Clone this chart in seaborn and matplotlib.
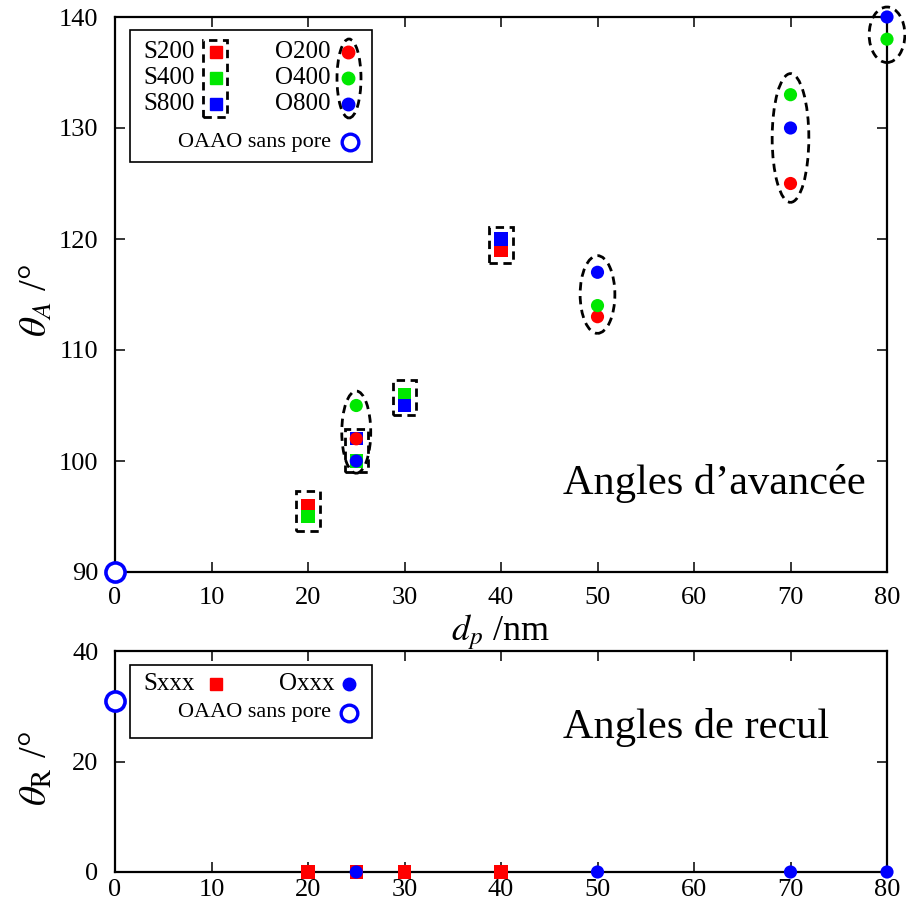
import matplotlib
matplotlib.use("Agg")
import matplotlib.pyplot as plt
import seaborn as sns
import pandas as pd
from matplotlib.patches import Rectangle, Ellipse

# ---------------- data ----------------
s200_x = [20, 25, 30, 40]
s200_y = [96, 102, 105, 119]
s400_x = [20, 25, 30, 40]
s400_y = [95, 100, 106, 120]
s800_x = [25, 30, 40]
s800_y = [102, 105, 120]

o200_x = [25, 50, 70]
o200_y = [102, 113, 125]
o400_x = [25, 50, 70, 80]
o400_y = [105, 114, 133, 138]
o800_x = [25, 50, 70, 80]
o800_y = [100, 117, 130, 140]

oaao_x = [0]
oaao_adv = [90]
oaao_rec = [31]

sxxx_x = [20, 25, 30, 40]
sxxx_rec = [0, 0, 0, 0]
oxxx_x = [25, 50, 70, 80]
oxxx_rec = [0, 0, 0, 0]

x_ticks = [0, 10, 20, 30, 40, 50, 60, 70, 80]
ya_ticks = [90, 100, 110, 120, 130, 140]
yr_ticks = [0, 20, 40]

RED, GREEN, BLUE = "#ff0000", "#00e800", "#0000ff"

sns.set_theme(style="white")
plt.rcParams["font.family"] = ["Liberation Serif", "DejaVu Serif"]
plt.rcParams["mathtext.fontset"] = "stix"
for k in ["text.color", "axes.labelcolor", "xtick.color", "ytick.color"]:
    plt.rcParams[k] = "black"

fig = plt.figure(figsize=(9.06, 9.11), dpi=100)
W, H = 906, 911
L, R = 115, 887
ax1 = fig.add_axes([L / W, 1 - 572 / H, (R - L) / W, (572 - 17) / H])
ax2 = fig.add_axes([L / W, 1 - 872 / H, (R - L) / W, (872 - 651) / H])

SQ = 90

def scat(ax, x, y, color, marker, s=SQ, z=3):
    df = pd.DataFrame({"x": x, "y": y})
    sns.scatterplot(data=df, x="x", y="y", ax=ax, color=color, marker=marker,
                    s=s, edgecolor="none", linewidth=0, clip_on=False, zorder=z,
                    legend=False)

def hollow(ax, x, y):
    df = pd.DataFrame({"x": x, "y": y})
    sns.scatterplot(data=df, x="x", y="y", ax=ax, marker="o", s=190,
                    facecolor="white", edgecolor=BLUE, linewidth=2.6,
                    clip_on=False, zorder=6, legend=False)

# ---- top panel ----
scat(ax1, s200_x, s200_y, RED, "s")
scat(ax1, s400_x, s400_y, GREEN, "s")
scat(ax1, s800_x, s800_y, BLUE, "s")
scat(ax1, o200_x, o200_y, RED, "o", z=4)
scat(ax1, o400_x, o400_y, GREEN, "o", z=4)
scat(ax1, o800_x, o800_y, BLUE, "o", z=4)
hollow(ax1, oaao_x, oaao_adv)

dash = dict(fill=False, edgecolor="black", linewidth=2.0, linestyle=(0, (3, 2)),
            clip_on=False, zorder=5)
# dashed groupings (squares)
for xc, ylo, yhi in [(20, 93.7, 97.3), (25, 99.0, 102.9), (30, 104.1, 107.3), (40, 117.8, 121.1)]:
    ax1.add_patch(Rectangle((xc - 1.2, ylo), 2.4, yhi - ylo, **dash))
# dashed groupings (circles)
for xc, yc, w, h in [(25, 102.6, 3.0, 7.4), (50, 115.0, 3.6, 7.0), (70, 129.1, 3.8, 11.6), (80, 138.4, 3.7, 5.0)]:
    ax1.add_patch(Ellipse((xc, yc), w, h, **dash))

ax1.set_xlim(0, 80)
ax1.set_ylim(90, 140)
ax1.set_xticks(x_ticks)
ax1.set_yticks(ya_ticks)
ax1.set_xlabel(r"$d_p$ /nm", fontsize=26, labelpad=2)
ax1.set_ylabel(r"$\theta_A$ /°", fontsize=28)
ax1.yaxis.set_label_coords((56 - L) / (R - L), 0.49)
ax1.text(0.58, 0.16, "Angles d’avancée", transform=ax1.transAxes, fontsize=30.5,
         va="center", ha="left")

# ---- bottom panel ----
scat(ax2, sxxx_x, sxxx_rec, RED, "s")
scat(ax2, oxxx_x, oxxx_rec, BLUE, "o", z=4)
hollow(ax2, oaao_x, oaao_rec)
ax2.set_xlim(0, 80)
ax2.set_ylim(0, 40)
ax2.set_xticks(x_ticks)
ax2.set_yticks(yr_ticks)
ax2.set_xlabel("")
ax2.set_ylabel(r"$\theta_\mathrm{R}$ /°", fontsize=28)
ax2.yaxis.set_label_coords((56 - L) / (R - L), 0.47)
ax2.text(0.58, 0.656, "Angles de recul", transform=ax2.transAxes, fontsize=30.5,
         va="center", ha="left")

for ax in (ax1, ax2):
    for sp in ax.spines.values():
        sp.set_visible(True)
        sp.set_color("black")
        sp.set_linewidth(1.6)
    ax.tick_params(direction="in", length=7, width=1.1, top=True, right=True,
                   bottom=True, left=True, labelsize=19, colors="black")
    ax.tick_params(axis="y", pad=12)
ax1.tick_params(axis="x", pad=11)
ax2.tick_params(axis="x", pad=5)

# ---- hand-built legends ----
def fx(px):
    return (px - L) / (R - L)

def leg_top(ax, y0, y1):
    def fy(py):
        return (y0 - py) / (y0 - y1)
    return fy

fy1 = leg_top(ax1, 572, 17)
T = ax1.transAxes
ax1.add_patch(Rectangle((fx(130), fy1(162)), fx(372) - fx(130), fy1(30) - fy1(162),
                        transform=T, fill=True, facecolor="white", edgecolor="black",
                        linewidth=1.2, zorder=7, clip_on=False))
for lab, col, py in [("S200", RED, 52), ("S400", GREEN, 78), ("S800", BLUE, 104)]:
    ax1.text(fx(143), fy1(py), lab, transform=T, fontsize=18, va="center", ha="left", zorder=8)
    ax1.plot([fx(216)], [fy1(py)], transform=T, marker="s", ms=9, color=col, ls="none",
             zorder=8, clip_on=False)
for lab, col, py in [("O200", RED, 52), ("O400", GREEN, 78), ("O800", BLUE, 104)]:
    ax1.text(fx(330), fy1(py), lab, transform=T, fontsize=18, va="center", ha="right", zorder=8)
    ax1.plot([fx(348)], [fy1(py)], transform=T, marker="o", ms=9, color=col, ls="none",
             zorder=8, clip_on=False)
ax1.add_patch(Rectangle((fx(203), fy1(117)), fx(227) - fx(203), fy1(40) - fy1(117),
                        transform=T, fill=False, edgecolor="black", linewidth=2.0,
                        linestyle=(0, (3, 2)), zorder=8, clip_on=False))
ax1.add_patch(Ellipse((fx(349), fy1(78.5)), fx(361) - fx(337), fy1(39) - fy1(118),
                      transform=T, fill=False, edgecolor="black", linewidth=2.0,
                      linestyle=(0, (3, 2)), zorder=8, clip_on=False))
ax1.text(fx(331), fy1(142), "OAAO sans pore", transform=T, fontsize=16, va="center",
         ha="right", zorder=8)
ax1.plot([fx(350)], [fy1(142)], transform=T, marker="o", ms=12, mfc="white", mec=BLUE,
         mew=2.4, ls="none", zorder=8, clip_on=False)

fy2 = leg_top(ax2, 872, 651)
T2 = ax2.transAxes
ax2.add_patch(Rectangle((fx(130), fy2(738)), fx(372) - fx(130), fy2(665) - fy2(738),
                        transform=T2, fill=True, facecolor="white", edgecolor="black",
                        linewidth=1.2, zorder=7, clip_on=False))
ax2.text(fx(143), fy2(684), "Sxxx", transform=T2, fontsize=18, va="center", ha="left", zorder=8)
ax2.plot([fx(216)], [fy2(684)], transform=T2, marker="s", ms=9, color=RED, ls="none",
         zorder=8, clip_on=False)
ax2.text(fx(334), fy2(684), "Oxxx", transform=T2, fontsize=18, va="center", ha="right", zorder=8)
ax2.plot([fx(349)], [fy2(684)], transform=T2, marker="o", ms=9, color=BLUE, ls="none",
         zorder=8, clip_on=False)
ax2.text(fx(331), fy2(713), "OAAO sans pore", transform=T2, fontsize=16, va="center",
         ha="right", zorder=8)
ax2.plot([fx(349)], [fy2(713)], transform=T2, marker="o", ms=12, mfc="white", mec=BLUE,
         mew=2.4, ls="none", zorder=8, clip_on=False)

fig.savefig("out.png", dpi=100, facecolor="white")
